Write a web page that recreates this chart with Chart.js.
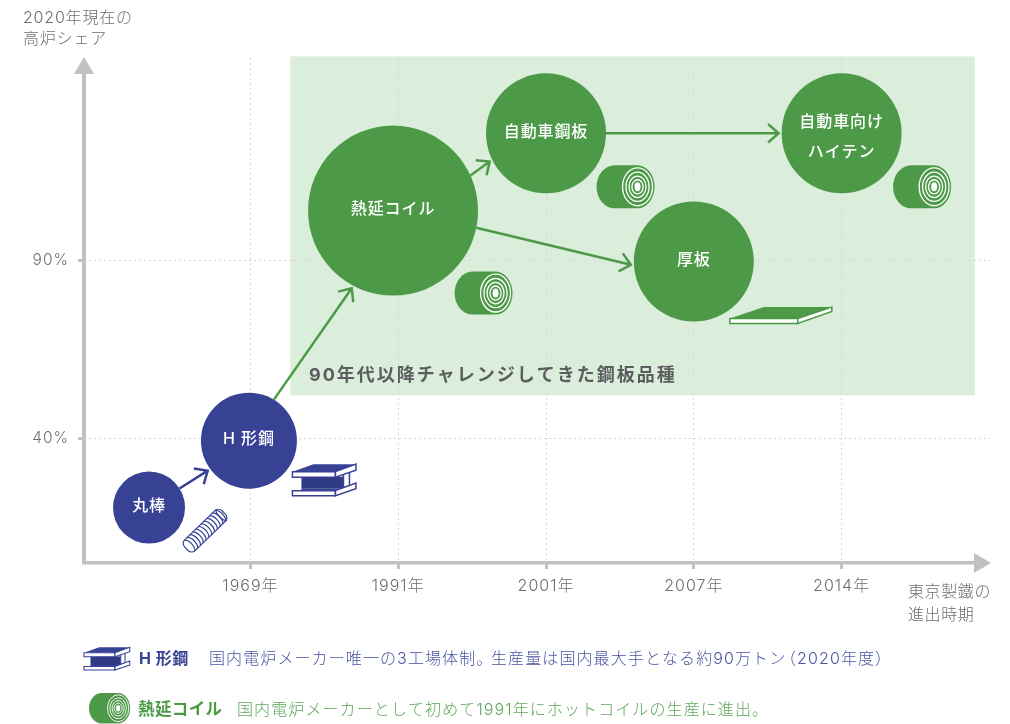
<!DOCTYPE html>
<html lang="ja">
<head>
<meta charset="UTF-8">
<title>東京製鐵の進出時期と高炉シェア</title>
<script src="https://cdn.jsdelivr.net/npm/chart.js"></script>
<style>
    html, body { margin: 0; padding: 0; background: #fff; overflow: hidden; }
    canvas { display: block; }
</style>
</head>
<body>
<canvas id="chart" width="1010" height="724"></canvas>
<script>
    // x axis is an ordinal position along the timeline, y axis is the share in %
    const yearLabels = ['1969年', '1991年', '2001年', '2007年', '2014年'];
    const yearTicks = [0, 1, 2, 3, 4];
    const shareTicks = [40, 90];

    const products = ['丸棒', 'H 形鋼', '熱延コイル', '自動車鋼板', '厚板', '自動車向け\nハイテン'];
    const productTime = [-0.686, -0.01, 0.965, 2.0, 3.0, 4.0];
    const productShare = [20.6, 39.4, 104.0, 125.7, 89.7, 125.7];
    const bubbleSize = [36, 48, 85, 60, 60, 60];

    // arrows: which bubble to which, leaving and arriving at these angles
    const arrowFrom = [0, 1, 2, 3, 2];
    const arrowTo = [1, 2, 3, 5, 4];
    const arrowLeave = [-32, -58.7, -24.4, 0, 11.6];
    const arrowArrive = [144, 118, 153.4, 180, 177];

    const NAVY = '#384295';
    const GREEN = '#4c9a47';
    const AXIS = '#c0c1c2';
    const TEXT = '#6d6e70';
    const JP = 'Inter, "Noto Sans CJK JP", sans-serif';
    const productColors = [NAVY, NAVY, GREEN, GREEN, GREEN, GREEN];

    function text(ctx, str, x, y, font, color, align, spacing) {
        ctx.font = font;
        ctx.fillStyle = color;
        ctx.textAlign = align || 'left';
        ctx.textBaseline = 'middle';
        ctx.letterSpacing = (spacing || 0) + 'px';
        ctx.fillText(str, x, y);
        ctx.letterSpacing = '0px';
    }

    function poly(ctx, pts, fill, stroke) {
        ctx.beginPath();
        pts.forEach((p, i) => i ? ctx.lineTo(p[0], p[1]) : ctx.moveTo(p[0], p[1]));
        ctx.closePath();
        if (fill) { ctx.fillStyle = fill; ctx.fill(); }
        if (stroke) { ctx.strokeStyle = stroke; ctx.lineWidth = 1.5; ctx.stroke(); }
    }

    // coil picture, 58 x 43 before scaling
    function drawCoil(ctx, x, y, s) {
        ctx.save();
        ctx.translate(x, y);
        ctx.scale(s, s);
        ctx.fillStyle = GREEN;
        ctx.beginPath();
        ctx.moveTo(18, 0);
        ctx.lineTo(41, 0);
        ctx.ellipse(41, 21.5, 17, 21.5, 0, -Math.PI / 2, Math.PI / 2);
        ctx.lineTo(18, 43);
        ctx.ellipse(18, 21.5, 18, 21.5, 0, Math.PI / 2, Math.PI * 1.5);
        ctx.fill();
        ctx.strokeStyle = '#fff';
        ctx.lineWidth = 1.3;
        [0.88, 0.68, 0.5, 0.33].forEach(k => {
            ctx.beginPath();
            ctx.ellipse(41, 21.5, 17 * k, 21.5 * k, 0, 0, Math.PI * 2);
            ctx.stroke();
        });
        ctx.fillStyle = '#fff';
        ctx.beginPath();
        ctx.ellipse(41, 21.5, 3, 4.5, 0, 0, Math.PI * 2);
        ctx.fill();
        ctx.restore();
    }

    // H beam picture, 64 x 32 before scaling
    function drawBeam(ctx, x, y, s) {
        ctx.save();
        ctx.translate(x, y);
        ctx.scale(s, s);
        poly(ctx, [[9, 13], [51, 13], [51, 25], [9, 25]], '#2f3a85');
        poly(ctx, [[9, 25], [51, 25], [43, 27], [9, 27]], NAVY);
        poly(ctx, [[51, 8], [57, 6], [57, 22], [51, 24]], '#fff', NAVY);
        poly(ctx, [[0, 8], [21, 0.5], [63.5, 0.5], [43, 8]], NAVY);
        poly(ctx, [[0, 8], [43, 8], [43, 13.5], [0, 13.5]], '#fff', NAVY);
        poly(ctx, [[43, 8], [63.5, 0.5], [63.5, 6.5], [43, 13.5]], '#fff', NAVY);
        poly(ctx, [[0, 27], [43, 27], [43, 32], [0, 32]], '#fff', NAVY);
        poly(ctx, [[43, 27], [63.5, 19.5], [63.5, 25], [43, 32]], '#fff', NAVY);
        ctx.restore();
    }

    function drawPlate(ctx, x, y) {
        ctx.save();
        ctx.translate(x, y);
        poly(ctx, [[0, 12], [34, 0.5], [102, 0.5], [68, 12]], GREEN);
        poly(ctx, [[0, 12], [68, 12], [68, 17], [0, 17]], '#fff', GREEN);
        poly(ctx, [[68, 12], [102, 0.5], [102, 5], [68, 17]], '#fff', GREEN);
        ctx.restore();
    }

    function drawRod(ctx, cx, cy) {
        ctx.save();
        ctx.translate(cx, cy);
        ctx.rotate(-44 * Math.PI / 180);
        ctx.fillStyle = '#fff';
        ctx.strokeStyle = NAVY;
        ctx.lineWidth = 1.2;
        ctx.beginPath();
        ctx.roundRect(-26, -7.5, 52, 15, 5);
        ctx.fill();
        ctx.stroke();
        for (let i = 0; i < 12; i++) {
            ctx.beginPath();
            ctx.ellipse(-22 + i * 3.9, 0, 3.2, 7.5, 0, -Math.PI / 2, Math.PI / 2);
            ctx.stroke();
        }
        ctx.beginPath();
        ctx.ellipse(23, 0, 3, 7.5, 0, Math.PI / 2, Math.PI * 1.5);
        ctx.stroke();
        ctx.restore();
    }

    function drawArrow(ctx, from, to, leave, arrive, color) {
        const rad = Math.PI / 180;
        const r1 = from.options.radius;
        const r2 = to.options.radius + 3;
        const x1 = from.x + r1 * Math.cos(leave * rad);
        const y1 = from.y + r1 * Math.sin(leave * rad);
        const x2 = to.x + r2 * Math.cos(arrive * rad);
        const y2 = to.y + r2 * Math.sin(arrive * rad);
        const a = Math.atan2(y2 - y1, x2 - x1);
        ctx.strokeStyle = color;
        ctx.lineWidth = 2.5;
        ctx.beginPath();
        ctx.moveTo(x1, y1);
        ctx.lineTo(x2, y2);
        ctx.moveTo(x2 - 14 * Math.cos(a - 0.72), y2 - 14 * Math.sin(a - 0.72));
        ctx.lineTo(x2, y2);
        ctx.lineTo(x2 - 14 * Math.cos(a + 0.72), y2 - 14 * Math.sin(a + 0.72));
        ctx.stroke();
    }

    const backdrop = {
        id: 'backdrop',
        beforeDraw(chart) {
            const { ctx, scales: { x, y } } = chart;
            // green band: everything from the 90s onward
            const left = x.getPixelForValue(0.27);
            const right = x.getPixelForValue(4.9);
            const top = y.getPixelForValue(147.3);
            const bottom = y.getPixelForValue(52.1);
            ctx.fillStyle = '#dbeddb';
            ctx.fillRect(left, top, right - left, bottom - top);
            // tick labels are spaced out a little in the original
            ctx.letterSpacing = '1px';
        }
    };

    const annotations = {
        id: 'annotations',
        beforeDatasetsDraw(chart) {
            const ctx = chart.ctx;
            const pts = chart.getDatasetMeta(0).data;
            ctx.letterSpacing = '0px';
            arrowFrom.forEach((f, i) => {
                const t = arrowTo[i];
                drawArrow(ctx, pts[f], pts[t], arrowLeave[i], arrowArrive[i], productColors[t]);
            });
        },
        afterDraw(chart) {
            const { ctx, chartArea: a } = chart;
            const pts = chart.getDatasetMeta(0).data;

            // axis lines and arrow heads
            ctx.fillStyle = AXIS;
            ctx.fillRect(82, 70, 4, a.bottom - 70 + 1);
            ctx.fillRect(82, 561, 895, 3.5);
            poly(ctx, [[84, 57], [74, 74], [94, 74]], AXIS);
            poly(ctx, [[991, 563], [974, 553], [974, 573]], AXIS);

            // bubble names
            products.forEach((name, i) => {
                const lines = name.split('\n');
                const mid = lines.length > 1 ? pts[i].y + 3.5 : pts[i].y - 1.5;
                lines.forEach((line, j) => {
                    const yy = mid + (j - (lines.length - 1) / 2) * 30;
                    text(ctx, line, pts[i].x, yy, '500 16px ' + JP, '#fff', 'center', 0.9);
                });
            });

            // small product pictures next to the bubbles
            drawRod(ctx, pts[0].x + 56, pts[0].y + 23);
            drawBeam(ctx, pts[1].x + 43.5, pts[1].y + 23, 1);
            drawCoil(ctx, pts[2].x + 61.5, pts[2].y + 61, 1);
            drawCoil(ctx, pts[3].x + 50.5, pts[3].y + 32, 1);
            drawPlate(ctx, pts[4].x + 36, pts[4].y + 45);
            drawCoil(ctx, pts[5].x + 51.5, pts[5].y + 32, 1);

            text(ctx, '90年代以降チャレンジしてきた鋼板品種', 309, 376, 'bold 18px ' + JP, '#5c5d5f', 'left', 2);

            // axis captions
            text(ctx, '2020年現在の', 23, 18, '300 16px ' + JP, TEXT, 'left', 0.8);
            text(ctx, '高炉シェア', 23, 39, '300 16px ' + JP, TEXT, 'left', 0.8);
            text(ctx, '東京製鐵の', 908, 592, '300 16px ' + JP, TEXT, 'left', 0.6);
            text(ctx, '進出時期', 908, 615, '300 16px ' + JP, TEXT, 'left', 0.6);

            // notes below the chart, split where the original closes up the punctuation
            drawBeam(ctx, 84, 647, 0.72);
            text(ctx, 'H 形鋼', 139, 659, 'bold 16px ' + JP, NAVY, 'left', 0.5);
            const noteFont = '300 16px ' + JP;
            text(ctx, '国内電炉メーカー唯一の3工場体制。', 209, 659, noteFont, '#4a55a2', 'left', 1.1);
            text(ctx, '生産量は国内最大手となる約90万トン', 491, 659, noteFont, '#4a55a2', 'left', 1.1);
            text(ctx, '（2020年度）', 780, 659, noteFont, '#4a55a2', 'left', 1.1);
            drawCoil(ctx, 89, 693, 0.71);
            text(ctx, '熱延コイル', 138, 710, 'bold 16.5px ' + JP, GREEN, 'left', 0.4);
            text(ctx, '国内電炉メーカーとして初めて1991年にホットコイルの生産に進出。', 237, 710, noteFont, '#5fa65a', 'left', 1.1);
        }
    };

    const gridOptions = {
        color: '#d6d6d6',
        lineWidth: 1,
        tickColor: AXIS,
        tickWidth: 3,
        tickLength: 6,
        tickBorderDash: []
    };
    const borderOptions = { display: false, dash: [2, 3] };

    new Chart(document.getElementById('chart'), {
        type: 'bubble',
        data: {
            datasets: [{
                data: products.map((_, i) => ({ x: productTime[i], y: productShare[i], r: bubbleSize[i] })),
                backgroundColor: productColors,
                borderWidth: 0,
                hoverBorderWidth: 0
            }]
        },
        options: {
            responsive: false,
            animation: false,
            events: [],
            layout: { autoPadding: false, padding: { top: 58, right: 20 } },
            plugins: { legend: { display: false }, tooltip: { enabled: false } },
            scales: {
                x: {
                    type: 'linear',
                    min: -1.126,
                    max: 5.004,
                    afterFit: s => { s.height = 161; },
                    afterBuildTicks: s => { s.ticks = yearTicks.map(v => ({ value: v })); },
                    grid: gridOptions,
                    border: borderOptions,
                    ticks: {
                        autoSkip: false,
                        maxRotation: 0,
                        padding: 8,
                        color: TEXT,
                        font: { family: JP, size: 16, weight: '300' },
                        callback: v => yearLabels[v]
                    }
                },
                y: {
                    type: 'linear',
                    min: 5.05,
                    max: 146.85,
                    afterFit: s => { s.width = 84; },
                    afterBuildTicks: s => { s.ticks = shareTicks.map(v => ({ value: v })); },
                    grid: gridOptions,
                    border: borderOptions,
                    ticks: {
                        padding: 9,
                        color: TEXT,
                        font: { family: JP, size: 15.5, weight: '300' },
                        callback: v => v + '%'
                    }
                }
            }
        },
        plugins: [backdrop, annotations]
    });
</script>
</body>
</html>
